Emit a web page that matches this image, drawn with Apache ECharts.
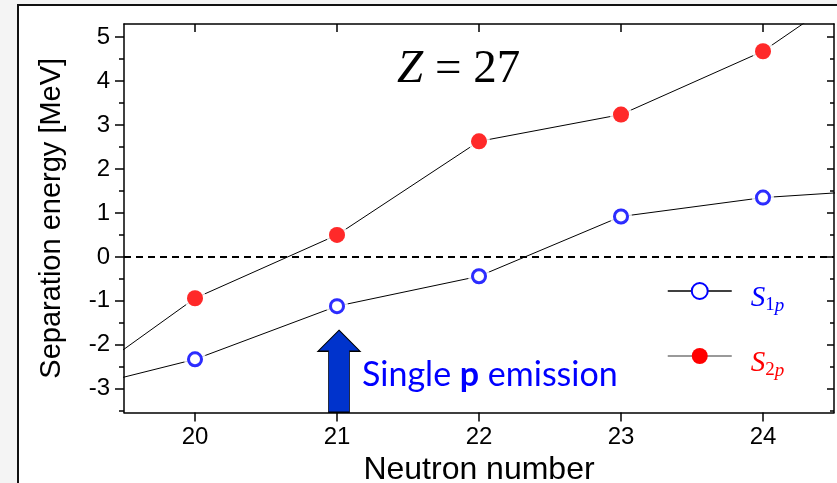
<!DOCTYPE html>
<html>
<head>
<meta charset="utf-8">
<script src="https://cdn.jsdelivr.net/npm/echarts@6/dist/echarts.min.js"></script>
<style>
html,body{margin:0;padding:0;background:#f4f4f4;}
#c{width:837px;height:483px;}
</style>
</head>
<body>
<div id="c"></div>
<script>
// ---- data ----
const neutron = [19, 20, 21, 22, 23, 24, 25];
const s1p = [-3.14, -2.33, -1.12, -0.44, 0.92, 1.35, 1.56];
const s2p = [-3.26, -0.94, 0.50, 2.63, 3.24, 4.68, 6.90];
const xTickValues = [20, 21, 22, 23, 24];
const yTickValues = [-3, -2, -1, 0, 1, 2, 3, 4, 5];
const yMinorValues = [-3.5, -2.5, -1.5, -0.5, 0.5, 1.5, 2.5, 3.5, 4.5];
const arrowNeutron = 21;
const arrowMid = -2.6;

const pts1 = neutron.map((n, i) => [n, s1p[i]]);
const pts2 = neutron.map((n, i) => [n, s2p[i]]);

const X_MIN = 19.5, X_MAX = 24.5, Y_MIN = -3.54, Y_MAX = 5.3;
const AX = {color: '#000', width: 1.5};
const LF = 'Liberation Sans, Arial, sans-serif';
const SERIF = 'Liberation Serif, Times New Roman, serif';

const chart = echarts.init(document.getElementById('c'), null, {renderer: 'canvas'});

const ringStyle = {color: '#fff', borderColor: '#0000ff', borderWidth: 3};
const dotStyle = {color: '#ff0000', borderWidth: 0};

function legendRich(color, digit) {
  return {
    formatter: () => '{s|S}{n|' + digit + '}{p|p}',
    textStyle: {padding: [14, 0, 0, 14],
      rich: {s: {fontFamily: SERIF, fontStyle: 'italic', fontSize: 29, color: color, lineHeight: 34},
             n: {fontFamily: SERIF, fontSize: 19, color: color, verticalAlign: 'bottom', lineHeight: 21},
             p: {fontFamily: SERIF, fontStyle: 'italic', fontSize: 19, color: color, verticalAlign: 'bottom', lineHeight: 21}}}
  };
}

const option = {
  animation: false,
  backgroundColor: '#f4f4f4',
  graphic: [
    {type: 'rect', z: -100, shape: {x: 18, y: 5, width: 840, height: 500},
     style: {fill: '#fff', stroke: '#111', lineWidth: 2}},
    {type: 'text', x: 397, y: 70, z: 10,
     style: {text: '{z|Z}{n| = 27}', verticalAlign: 'middle', align: 'left',
       rich: {z: {fontFamily: SERIF, fontStyle: 'italic', fontSize: 47, fill: '#000'},
              n: {fontFamily: SERIF, fontSize: 47, fill: '#000'}}}},
    {type: 'text', x: 362, y: 375, z: 10,
     style: {text: '{a|Single }{b|p}{a| emission}', verticalAlign: 'middle', align: 'left',
       rich: {a: {fontFamily: 'Lato, Open Sans, sans-serif', fontSize: 34, fill: '#0000ff'},
              b: {fontFamily: 'Lato, Open Sans, sans-serif', fontWeight: 'bold', fontSize: 34, fill: '#0000ff'}}}}
  ],
  grid: {left: 124, top: 24, width: 710, height: 388.5, containLabel: false, outerBoundsMode: 'none'},
  legend: [
    Object.assign({data: [{name: 'S1p'}], left: 662, top: 277, orient: 'horizontal', selectedMode: false,
     itemWidth: 64, itemHeight: 20, itemGap: 0,
     lineStyle: {color: '#000', width: 1.5}}, legendRich('#0000ff', '1')),
    Object.assign({data: [{name: 'S2p'}], left: 662, top: 343, orient: 'horizontal', selectedMode: false,
     itemWidth: 64, itemHeight: 20, itemGap: 0,
     lineStyle: {color: '#777', width: 1.5}}, legendRich('#ff0000', '2'))
  ],
  xAxis: [
    {type: 'value', position: 'bottom', min: X_MIN, max: X_MAX,
     axisLine: {show: true, onZero: false, lineStyle: AX},
     axisTick: {show: true, customValues: xTickValues, length: 9, inside: false, lineStyle: AX},
     axisLabel: {customValues: xTickValues, fontSize: 24, color: '#000', fontFamily: LF, margin: 13},
     splitLine: {show: false},
     name: 'Neutron number', nameLocation: 'middle', nameGap: 37,
     nameTextStyle: {fontSize: 32, color: '#000', fontFamily: LF}},
    {type: 'value', position: 'top', min: X_MIN, max: X_MAX,
     axisLine: {show: true, onZero: false, lineStyle: AX},
     axisTick: {show: true, customValues: xTickValues, length: 8, inside: true, lineStyle: AX},
     axisLabel: {show: false}, splitLine: {show: false}}
  ],
  yAxis: [
    {type: 'value', position: 'left', min: Y_MIN, max: Y_MAX,
     axisLine: {show: true, onZero: false, lineStyle: AX},
     axisTick: {show: true, customValues: yTickValues, length: 9, inside: false, lineStyle: AX},
     axisLabel: {customValues: yTickValues, fontSize: 24, color: '#000', fontFamily: LF, margin: 14},
     splitLine: {show: false},
     name: 'Separation energy [MeV]', nameLocation: 'middle', nameGap: 58,
     nameTextStyle: {fontSize: 29, color: '#000', fontFamily: LF}},
    {type: 'value', position: 'left', min: Y_MIN, max: Y_MAX,
     axisLine: {show: false, onZero: false},
     axisTick: {show: true, customValues: yMinorValues, length: 5, inside: false, lineStyle: AX},
     axisLabel: {show: false}, splitLine: {show: false}},
    {type: 'value', position: 'right', min: Y_MIN, max: Y_MAX,
     axisLine: {show: true, onZero: false, lineStyle: AX},
     axisTick: {show: true, customValues: yTickValues, length: 7, inside: true, lineStyle: AX},
     axisLabel: {show: false}, splitLine: {show: false}},
    {type: 'value', position: 'right', min: Y_MIN, max: Y_MAX,
     axisLine: {show: false, onZero: false},
     axisTick: {show: true, customValues: yMinorValues, length: 4, inside: true, lineStyle: AX},
     axisLabel: {show: false}, splitLine: {show: false}}
  ],
  series: [
    {name: 'S1p', type: 'line', data: pts1, xAxisIndex: 0, yAxisIndex: 0, clip: true, z: 2,
     symbol: 'circle', symbolSize: 13, itemStyle: ringStyle,
     lineStyle: {color: '#000', width: 1},
     markLine: {silent: true, symbol: ['none', 'none'], label: {show: false},
       lineStyle: {color: '#000', type: [7, 5], width: 2},
       data: [{yAxis: 0}]},
     markPoint: {silent: true,
       symbol: 'path://M21,0 L42,21 L31.5,21 L31.5,82 L10.5,82 L10.5,21 L0,21 Z',
       symbolSize: [42, 82], symbolKeepAspect: false, symbolOffset: [2, 0],
       itemStyle: {color: '#0033cc', borderColor: '#000', borderWidth: 1},
       label: {show: false},
       data: [{coord: [arrowNeutron, arrowMid]}]}},
    {name: 'S2p', type: 'line', data: pts2, xAxisIndex: 0, yAxisIndex: 0, clip: true, z: 2,
     symbol: 'circle', symbolSize: 16, itemStyle: dotStyle,
     lineStyle: {color: '#000', width: 1}},
    {name: 'halo', type: 'scatter', data: pts1.concat(pts2), clip: true, z: 3, silent: true,
     symbol: 'circle', symbolSize: 22, itemStyle: {color: '#fff'}},
    {name: 'm1', type: 'scatter', data: pts1, clip: true, z: 4, silent: true,
     symbol: 'circle', symbolSize: 13, itemStyle: ringStyle},
    {name: 'm2', type: 'scatter', data: pts2, clip: true, z: 4, silent: true,
     symbol: 'circle', symbolSize: 16, itemStyle: dotStyle}
  ]
};
chart.setOption(option);
</script>
</body>
</html>
